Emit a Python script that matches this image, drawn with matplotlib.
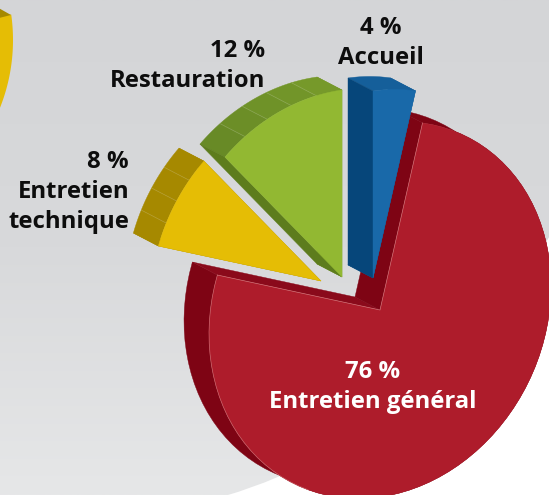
import numpy as np
from matplotlib import pyplot as plt
from matplotlib.colors import LinearSegmentedColormap, to_rgb
from matplotlib.patches import Circle, Polygon

# parts du camembert, dans le sens horaire depuis le haut
noms = ["Accueil", "Entretien général", "Entretien technique", "Restauration"]
parts = [4, 76, 8, 12]
etiquettes = ["4 %\nAccueil", "76 %\nEntretien général", "8 %\nEntretien\ntechnique", "12 %\nRestauration"]

# position de la pointe de chaque part (en pixels)
pointes = [(373, 278), (380, 310), (321, 281), (342, 277)]
couleurs_face = ["#1969a9", "#ae1c2b", "#e5bd05", "#92b832"]
bande_debut = ["#155f9a", "#7e0414", "#a68900", "#688a26"]
bande_fin = ["#155f9a", "#7e0414", "#a68900", "#76992a"]
couleurs_cote = ["#06467a", "#7e0414", "#a68900", "#5d7c1d"]
nb_joints = [0, 0, 3, 4]
ordre = [1, 2, 3, 0]

# forme de l'ellipse et sens de l'extrusion
RX, RY, CISAILLE = 171, 187, -24
EXTRUSION = np.array([-25, -13])

def contour(pointe, debut, fin, n=80):
    # arc de la part, angles en degrés dans le sens horaire depuis le haut
    t = np.radians(np.linspace(debut, fin, n))
    x = pointe[0] + RX * np.sin(t)
    y = pointe[1] + CISAILLE * np.sin(t) - RY * np.cos(t)
    return np.column_stack([x, y])

def face_extrudee(ax, ligne, couleur, z):
    # polygone entre une ligne et la même ligne décalée vers l'arrière
    pts = np.vstack([ligne, (ligne + EXTRUSION)[::-1]])
    ax.add_patch(Polygon(pts, closed=True, fc=couleur, ec=couleur, lw=0.3, zorder=z))

def dessiner_part(ax, i, debut, fin, z):
    pointe = np.array(pointes[i], dtype=float)
    arc = contour(pointe, debut, fin)

    # bande extérieure, par tronçons entre les joints
    n = nb_joints[i] + 1
    limites = np.linspace(debut, fin, n + 1)
    for k in range(n):
        melange = k / max(n - 1, 1)
        couleur = (1 - melange) * np.array(to_rgb(bande_debut[i])) + melange * np.array(to_rgb(bande_fin[i]))
        face_extrudee(ax, contour(pointe, limites[k], limites[k + 1]), tuple(couleur), z)

    # joints clairs sur la bande
    for angle in limites[1:-1]:
        a = contour(pointe, angle, angle, 1)[0]
        ax.plot([a[0], a[0] + EXTRUSION[0]], [a[1], a[1] + EXTRUSION[1]],
                color="white", alpha=0.14, lw=0.6, zorder=z + 0.1)

    # faces radiales
    face_extrudee(ax, np.vstack([pointe, arc[-1]]), bande_fin[i] if i != 1 else "#8a0a1b", z + 0.2)
    face_extrudee(ax, np.vstack([pointe, arc[0]]), couleurs_cote[i], z + 0.2)

    # face avant
    ax.add_patch(Polygon(np.vstack([pointe, arc]), closed=True, fc=couleurs_face[i],
                         ec=couleurs_face[i], lw=0.3, zorder=z + 0.5))
    if i == 1:
        ax.plot(*np.vstack([arc[0], pointe, arc[-1]]).T, color="#e8a0a0", alpha=0.6, lw=0.5, zorder=z + 0.6)
        ax.plot(arc[55:, 0], arc[55:, 1], color="#e8a0a0", alpha=0.5, lw=0.5, zorder=z + 0.6)


fig = plt.figure(figsize=(5.49, 4.95), dpi=100, facecolor="white")
ax = fig.add_axes([0, 0, 1, 1])

# grand disque gris en fond
cmap = LinearSegmentedColormap.from_list("fond", ["#d4d5d7", "#d8d9db", "#e6e7e8"])
degrade = np.linspace(0, 1, 256).reshape(-1, 1)
fond = ax.imshow(degrade, cmap=cmap, extent=(0, 549, 495, 0), aspect="auto", zorder=0)
disque = Circle((63, -39), 559, transform=ax.transData)
fond.set_clip_path(disque)

# morceau de part jaune coupé en haut à gauche
t = np.radians(np.linspace(-8, 30, 40))
bord = np.column_stack([-170 + 183 * np.cos(t), 40 + 183 * np.sin(t)])
ax.add_patch(Polygon(np.vstack([[-20, 20], bord, [-20, 140]]), closed=True, fc="#e5bd05", ec="none", zorder=1))
ax.add_patch(Polygon([(-5, 6), (11, 15), (-5, 19)], closed=True, fc="#a68900", ec="none", zorder=1.1))

# les parts
bornes = np.cumsum([0] + parts) / sum(parts) * 360
for z, i in enumerate(ordre):
    dessiner_part(ax, i, bornes[i], bornes[i + 1], 2 + z)

# textes
police = {"family": "Open Sans", "fontweight": "bold", "fontsize": 17.2, "linespacing": 1.36}
ax.text(381, 43, etiquettes[0], ha="center", va="center", color="#0d0d0d", zorder=10, **police)
ax.text(373, 387, etiquettes[1], ha="center", va="center", color="white", zorder=10, **police)
ax.text(129, 192, etiquettes[2], ha="right", va="center", color="#0d0d0d", zorder=10, **police)
ax.text(265, 66, etiquettes[3], ha="right", va="center", color="#0d0d0d", zorder=10, **police)

ax.set_xlim(0, 549)
ax.set_ylim(495, 0)
ax.axis("off")

fig.savefig("out.png", dpi=100, facecolor="white")
